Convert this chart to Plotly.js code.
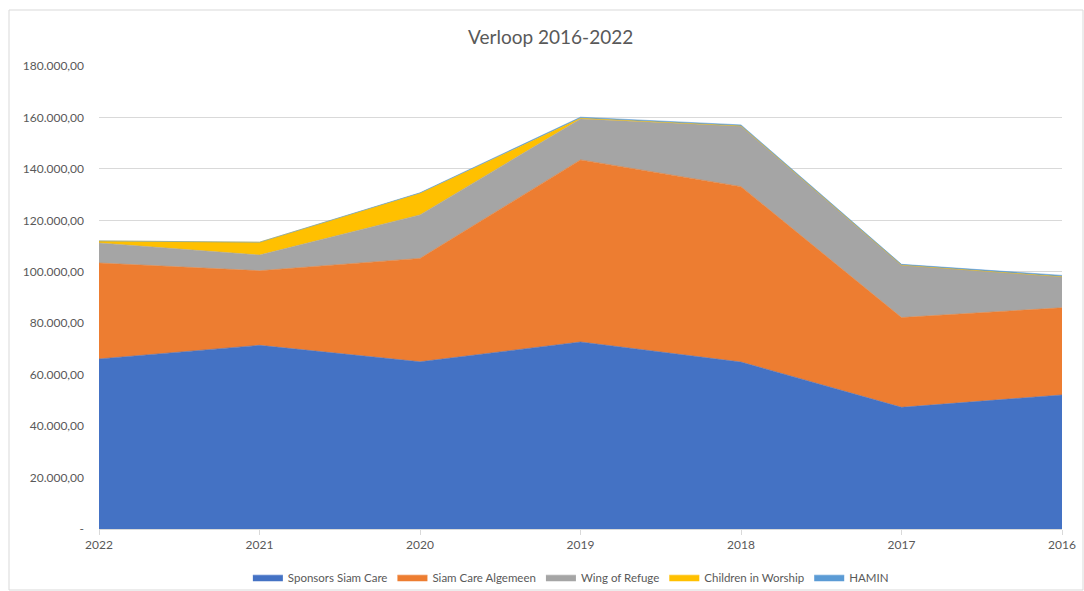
<!DOCTYPE html>
<html>
<head>
<meta charset="utf-8">
<script src="https://cdn.plot.ly/plotly-3.0.1.min.js"></script>
<style>html,body{margin:0;padding:0;background:#fff;}#chart{width:1084px;height:591px;}</style>
</head>
<body>
<div id="chart"></div>
<script>
const years = ["2022","2021","2020","2019","2018","2017","2016"];
const sponsorsSiamCare = [66100, 71400, 65000, 72700, 64900, 47300, 52100];
const siamCareAlgemeen = [37300, 29000, 40200, 70800, 68200, 34900, 33900];
const wingOfRefuge = [7800, 6100, 16900, 15900, 23600, 20400, 12100];
const childrenInWorship = [800, 5000, 8400, 300, 0, 0, 0];
const hamin = [0, 0, 200, 400, 400, 300, 500];
const yTickVals = [0, 20000, 40000, 60000, 80000, 100000, 120000, 140000, 160000, 180000];
const yTickText = ["-", "20.000,00", "40.000,00", "60.000,00", "80.000,00", "100.000,00", "120.000,00", "140.000,00", "160.000,00", "180.000,00"];

const series = [
  {name: "Sponsors Siam Care", y: sponsorsSiamCare, color: "#4472C4"},
  {name: "Siam Care Algemeen", y: siamCareAlgemeen, color: "#ED7D31"},
  {name: "Wing of Refuge", y: wingOfRefuge, color: "#A5A5A5"},
  {name: "Children in Worship", y: childrenInWorship, color: "#FFC000"},
  {name: "HAMIN", y: hamin, color: "#5B9BD5"}
];
const traces = series.map(s => ({
  type: "scatter", mode: "lines", x: years, y: s.y, name: s.name,
  stackgroup: "one", fillcolor: s.color,
  line: {color: s.color, width: 0.6}
}));

const layout = {
  width: 1084, height: 591,
  margin: {l: 99, r: 22, t: 66, b: 62, autoexpand: false},
  paper_bgcolor: "#fff", plot_bgcolor: "#fff",
  font: {family: "Lato, 'Open Sans', sans-serif", color: "#595959", size: 12},
  title: {text: "Verloop 2016-2022", x: 0.508, xanchor: "center", y: 0.937, yanchor: "middle",
          font: {size: 19, color: "#595959", family: "Lato, 'Open Sans', sans-serif"}},
  xaxis: {type: "category", range: [0, 6], showgrid: false, zeroline: false,
          showline: true, linecolor: "#d9d9d9", linewidth: 1,
          ticks: "outside", ticklen: 5, tickcolor: "#d9d9d9",
          tickfont: {size: 12, color: "#595959"}, fixedrange: true, automargin: false},
  yaxis: {range: [0, 180000], tickvals: yTickVals, ticktext: yTickText,
          showgrid: true, gridcolor: "#d9d9d9", gridwidth: 1, zeroline: false,
          showline: false, ticks: "", ticklabelstandoff: 14,
          tickfont: {size: 12, color: "#595959"}, fixedrange: true, automargin: false},
  legend: {orientation: "h", x: 0.49, xanchor: "center", y: -0.104, yanchor: "middle",
           bgcolor: "rgba(0,0,0,0)",
           font: {size: 11.5, color: "#595959"}, traceorder: "normal", itemwidth: 30},
  showlegend: true,
  shapes: [{type: "rect", xref: "paper", yref: "paper",
            x0: (9 - 99) / 963, x1: (1083 - 99) / 963,
            y0: (529 - 590) / 463, y1: (529 - 10) / 463,
            line: {color: "#d9d9d9", width: 1}, fillcolor: "rgba(0,0,0,0)", layer: "below"}]
};
Plotly.newPlot("chart", traces, layout, {displayModeBar: false, staticPlot: true});
</script>
</body>
</html>
